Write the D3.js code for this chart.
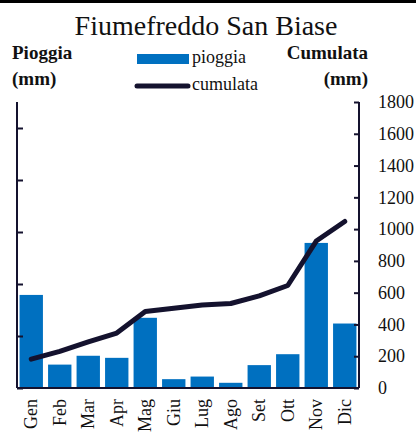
<!DOCTYPE html>
<html>
<head>
<meta charset="utf-8">
<script src="https://cdn.jsdelivr.net/npm/d3@7"></script>
<style>
  body { margin: 0; background: #fff; }
  text { font-family: "Liberation Serif", "DejaVu Serif", serif; fill: #111; }
</style>
</head>
<body>
<div id="chart"></div>
<script>
// data
const mesi = ["Gen", "Feb", "Mar", "Apr", "Mag", "Giu", "Lug", "Ago", "Set", "Ott", "Nov", "Dic"];
const pioggia = [179, 45, 62, 58, 135, 17, 22, 10, 44, 65, 279, 124];
const cumulata = [182, 230, 290, 346, 482, 502, 522, 532, 580, 645, 925, 1048];
const rightTicks = [0, 200, 400, 600, 800, 1000, 1200, 1400, 1600, 1800];
const leftTicks = [0, 100, 200, 300, 400, 500];

const width = 416, height = 434;
const plotL = 17, plotR = 359, plotT = 102, plotB = 388;
const navy = "#14122e";

const svg = d3.select("#chart").append("svg")
  .attr("width", width)
  .attr("height", height);

// black rule at the very top
svg.append("rect").attr("x", 0).attr("y", 0).attr("width", width).attr("height", 3).attr("fill", "#000");

const x = d3.scaleBand()
  .domain(mesi)
  .range([plotL, plotR])
  .paddingInner(0.18)
  .paddingOuter(0.09);

const yL = d3.scaleLinear().domain([0, 550]).range([plotB, plotT]);
const yR = d3.scaleLinear().domain([0, 1800]).range([plotB, plotT]);

// bars
svg.selectAll("rect.bar")
  .data(pioggia)
  .enter()
  .append("rect")
  .attr("class", "bar")
  .attr("x", (d, i) => x(mesi[i]))
  .attr("y", d => yL(d))
  .attr("width", x.bandwidth())
  .attr("height", d => plotB - yL(d))
  .attr("fill", "#0070c0");

// cumulative line
const line = d3.line()
  .x((d, i) => x(mesi[i]) + x.bandwidth() / 2)
  .y(d => yR(d));

svg.append("path")
  .datum(cumulata)
  .attr("d", line)
  .attr("fill", "none")
  .attr("stroke", navy)
  .attr("stroke-width", 5)
  .attr("stroke-linecap", "round")
  .attr("stroke-linejoin", "round");

// left axis (ticks inward, no labels)
const gL = svg.append("g")
  .attr("transform", "translate(" + plotL + ",0)")
  .call(d3.axisRight(yL).tickValues(leftTicks).tickSize(6).tickFormat(""));
gL.select(".domain").attr("stroke", navy).attr("stroke-width", 2).attr("d", "M0," + plotT + "V" + plotB);
gL.selectAll(".tick line").attr("stroke", navy).attr("stroke-width", 2);

// right axis (ticks inward, labels outside)
const gR = svg.append("g")
  .attr("transform", "translate(" + plotR + ",0)")
  .call(d3.axisRight(yR).tickValues(rightTicks).tickSize(0).tickFormat(d3.format("d")));
gR.select(".domain").attr("stroke", navy).attr("stroke-width", 2).attr("d", "M0," + plotT + "V" + plotB);
gR.selectAll(".tick line").attr("x2", -5).attr("stroke", navy).attr("stroke-width", 2);
gR.selectAll(".tick text")
  .style("font-family", "Liberation Serif, serif")
  .style("font-size", "18px")
  .attr("fill", "#111")
  .attr("text-anchor", "start")
  .attr("x", 19);

// bottom axis line
svg.append("line")
  .attr("x1", plotL).attr("x2", plotR)
  .attr("y1", plotB).attr("y2", plotB)
  .attr("stroke", navy).attr("stroke-width", 2);

// month labels, rotated
svg.selectAll("text.mese")
  .data(mesi)
  .enter()
  .append("text")
  .attr("class", "mese")
  .attr("transform", d => "translate(" + (x(d) + x.bandwidth() / 2 + 6) + ",399) rotate(-90)")
  .attr("text-anchor", "end")
  .style("font-size", "18px")
  .text(d => d);

// title
svg.append("text")
  .attr("x", 206).attr("y", 35)
  .attr("text-anchor", "middle")
  .style("font-size", "28px")
  .text("Fiumefreddo San Biase");

// axis titles
svg.append("text").attr("x", 12).attr("y", 59).style("font-size", "19px").style("font-weight", "bold").text("Pioggia");
svg.append("text").attr("x", 12).attr("y", 85).style("font-size", "19px").style("font-weight", "bold").text("(mm)");
svg.append("text").attr("x", 368).attr("y", 59).attr("text-anchor", "end").style("font-size", "19px").style("font-weight", "bold").text("Cumulata");
svg.append("text").attr("x", 368).attr("y", 85).attr("text-anchor", "end").style("font-size", "19px").style("font-weight", "bold").text("(mm)");

// legend
svg.append("rect").attr("x", 137).attr("y", 54).attr("width", 52).attr("height", 10).attr("fill", "#0070c0");
svg.append("text").attr("x", 192).attr("y", 63).style("font-size", "18px").text("pioggia");
svg.append("line").attr("x1", 137).attr("x2", 188).attr("y1", 86).attr("y2", 86)
  .attr("stroke", navy).attr("stroke-width", 5).attr("stroke-linecap", "round");
svg.append("text").attr("x", 192).attr("y", 90).style("font-size", "18px").text("cumulata");
</script>
</body>
</html>
